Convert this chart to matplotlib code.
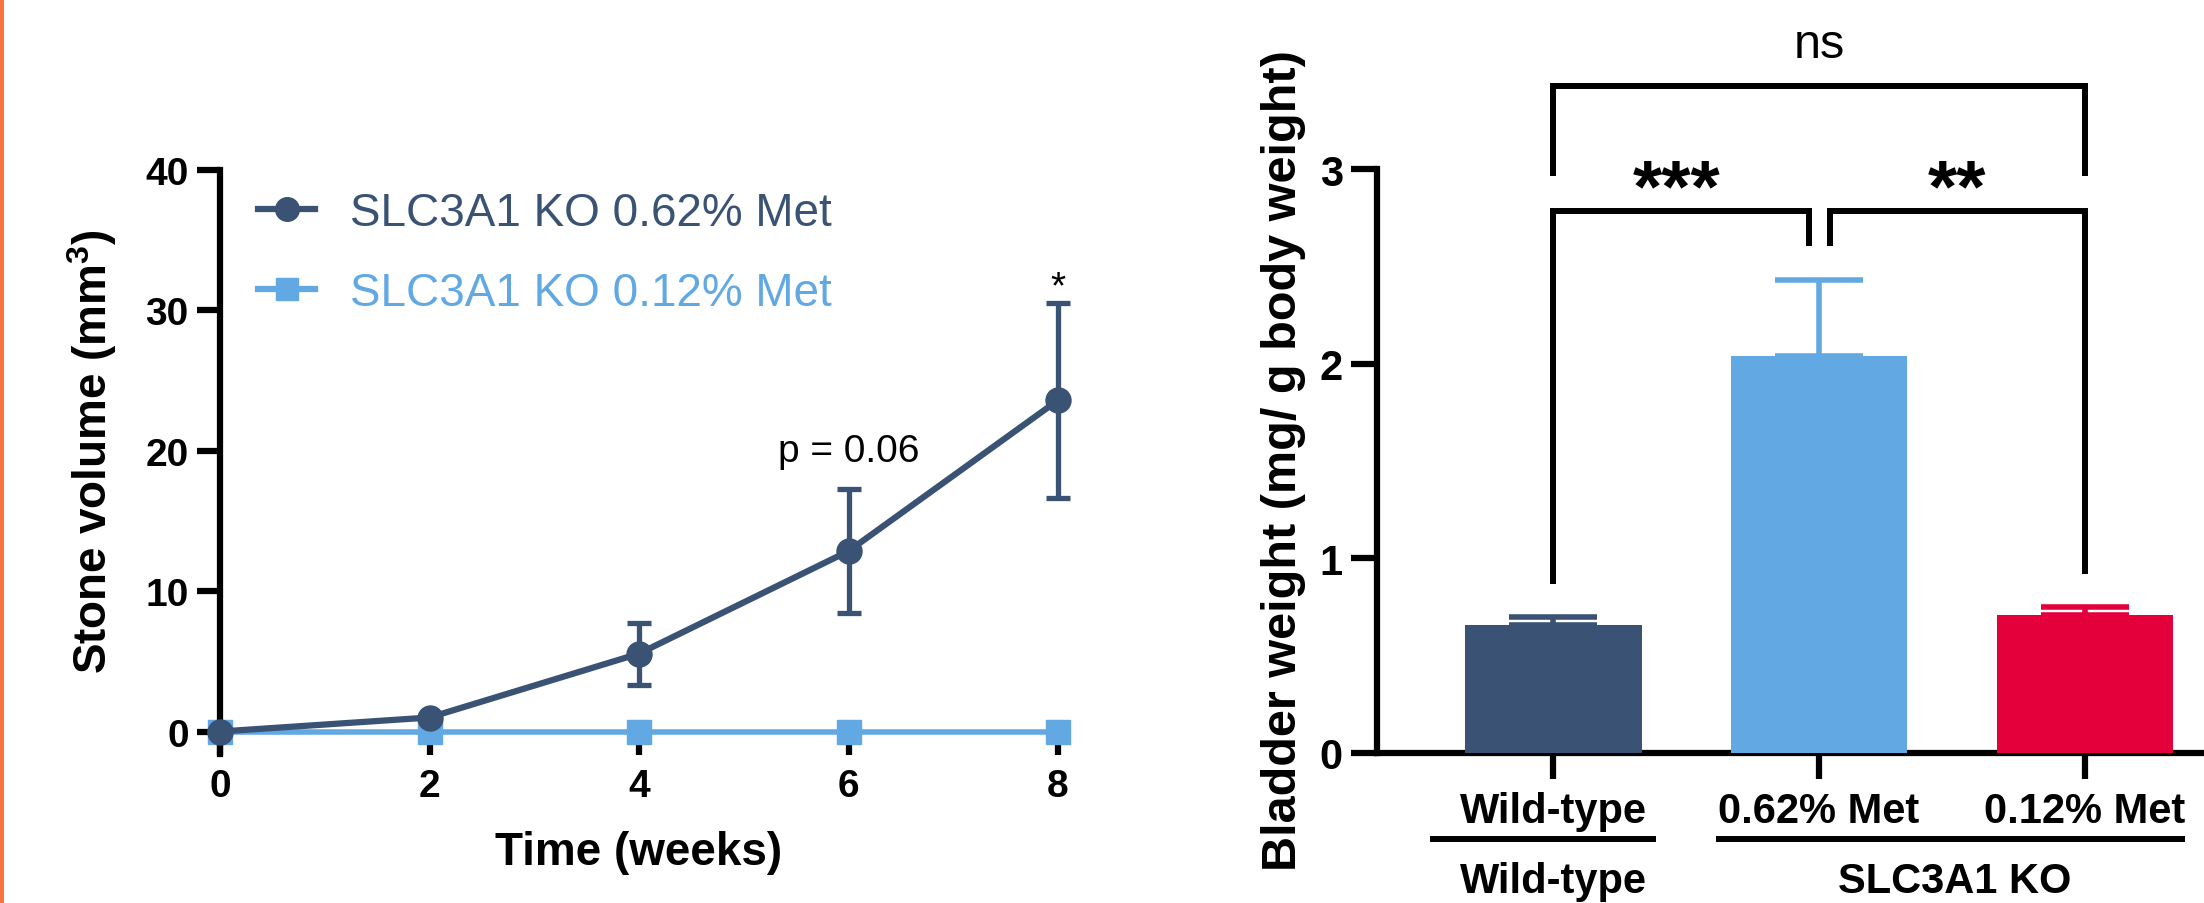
import numpy as np
import matplotlib
matplotlib.use("Agg")
import matplotlib.pyplot as plt
from matplotlib.lines import Line2D
from matplotlib.patches import Rectangle
from matplotlib.transforms import blended_transform_factory

plt.rcParams['font.family'] = ['Liberation Sans', 'DejaVu Sans']
plt.rcParams['mathtext.fontset'] = 'custom'
plt.rcParams['mathtext.rm'] = 'Liberation Sans'
plt.rcParams['mathtext.bf'] = 'Liberation Sans:bold'

# stone volume over time
weeks = [0, 2, 4, 6, 8]
met_high = [0, 1.0, 5.55, 12.85, 23.6]
met_high_sd = [0, 0, 2.2, 4.4, 6.95]
met_low = [0, 0, 0, 0, 0]
series_names = ['SLC3A1 KO 0.62% Met', 'SLC3A1 KO 0.12% Met']

# bladder weight
groups = ['Wild-type', '0.62% Met', '0.12% Met']
genotypes = ['Wild-type', 'SLC3A1 KO']
bladder = [0.66, 2.04, 0.71]
bladder_err = [0.04, 0.39, 0.04]

navy = '#3A5273'
light = '#62A8E2'
red = '#E4003A'
bar_colors = [navy, light, red]

W, H = 2204, 904
fig = plt.figure(figsize=(W / 100, H / 100), dpi=100)

# thin orange strip on the left edge
fig.add_artist(Rectangle((0, 0), 4 / W, 1, transform=fig.transFigure,
                         color='#F9733C', lw=0))

# ---- left: line plot ----
ax1 = fig.add_axes([220 / W, 1 - 755 / H, 838 / W, 584 / H])
ax1.plot(weeks, met_low, color=light, lw=4, marker='s', ms=17,
         clip_on=False, zorder=2)
ax1.errorbar(weeks, met_high, yerr=met_high_sd, color=navy, lw=4.5,
             marker='o', ms=18, capsize=8.5, capthick=3.8, elinewidth=3.8,
             zorder=3, clip_on=False)
ax1.set_xlim(0, 8)
ax1.set_ylim(-1.6, 40)
ax1.set_xticks(weeks)
ax1.set_yticks([0, 10, 20, 30, 40])
for s in ['top', 'right']:
    ax1.spines[s].set_visible(False)
ax1.spines['bottom'].set_position(('data', 0))
ax1.spines['bottom'].set_visible(False)
ax1.spines['left'].set_linewidth(4.5)
ax1.tick_params(axis='both', width=4.5, length=16.5, labelsize=28)
ax1.tick_params(axis='x', pad=10)
ax1.tick_params(axis='y', pad=6)
plt.setp(ax1.get_xticklabels() + ax1.get_yticklabels(), fontweight='bold')
ax1.set_xlabel('Time (weeks)', fontsize=33, fontweight='bold')
ax1.xaxis.set_label_coords(0.5, -0.13)
ax1.set_ylabel(r'Stone volume (mm$^{\mathbf{3}}$)', fontsize=33,
               fontweight='bold')
ax1.yaxis.set_label_coords(-0.12, 0.52)

ax1.text(6, 19.25, 'p = 0.06', ha='center', va='baseline', fontsize=28)
ax1.text(8, 30.9, '*', ha='center', va='baseline', fontsize=28)

handles = [Line2D([], [], color=navy, lw=4.5, marker='o', ms=17),
           Line2D([], [], color=light, lw=4.5, marker='s', ms=16)]
ax1.legend(handles, series_names, loc='upper left',
           bbox_to_anchor=(258 / W, 1 - 192 / H),
           bbox_transform=fig.transFigure, frameon=False, fontsize=33,
           labelcolor='linecolor', handlelength=1.25, handletextpad=0.75,
           labelspacing=0.78, borderpad=0, borderaxespad=0)

# ---- right: bar chart ----
ax2 = fig.add_axes([1377 / W, 1 - 754 / H, 841 / W, 584 / H])
xpos = np.arange(len(groups))
ax2.bar(xpos, bladder, width=0.665, color=bar_colors, zorder=3)
for i in range(len(groups)):
    ax2.errorbar(xpos[i], bladder[i], yerr=[[0], [bladder_err[i]]],
                 fmt='none', ecolor=bar_colors[i], elinewidth=4,
                 capsize=31.5, capthick=4, zorder=2)
ax2.set_xlim(-0.662, 2.5)
ax2.set_ylim(0, 3)
ax2.set_yticks([0, 1, 2, 3])
ax2.set_xticks(xpos, groups)
for s in ['top', 'right']:
    ax2.spines[s].set_visible(False)
for s in ['left', 'bottom']:
    ax2.spines[s].set_linewidth(4.5)
ax2.tick_params(axis='both', width=4.5, length=18.5, labelsize=30)
ax2.tick_params(axis='x', pad=9)
ax2.tick_params(axis='y', pad=6)
plt.setp(ax2.get_xticklabels() + ax2.get_yticklabels(), fontweight='bold')
ax2.set_ylabel('Bladder weight (mg/ g body weight)', fontsize=35,
               fontweight='bold')
ax2.yaxis.set_label_coords(-0.085, 0.503)

# significance brackets
bk = dict(color='black', lw=4.3, clip_on=False, solid_capstyle='butt',
          solid_joinstyle='miter')
ax2.plot([0, 0, 2, 2], [2.964, 3.426, 3.426, 2.964], **bk)
ax2.plot([0, 0, 0.962, 0.962], [0.868, 2.784, 2.784, 2.604], **bk)
ax2.plot([1.041, 1.041, 2, 2], [2.604, 2.784, 2.784, 0.92], **bk)
ax2.text(0.466, 2.79, '***', ha='center', va='baseline', fontsize=54,
         fontweight='bold')
ax2.text(1.517, 2.79, '**', ha='center', va='baseline', fontsize=54,
         fontweight='bold')
ax2.text(1.0, 3.575, 'ns', ha='center', va='baseline', fontsize=35)

# genotype row under the tick labels
tr = blended_transform_factory(ax2.transData, fig.transFigure)
ax2.plot([-0.462, 0.387], [1 - 840 / H] * 2, transform=tr, **bk)
ax2.plot([0.613, 2.376], [1 - 840 / H] * 2, transform=tr, **bk)
ax2.text(0, 1 - 893 / H, genotypes[0], transform=tr, ha='center',
         va='baseline', fontsize=30, fontweight='bold')
ax2.text(1.511, 1 - 893 / H, genotypes[1], transform=tr, ha='center',
         va='baseline', fontsize=30, fontweight='bold')

fig.savefig('out.png', dpi=100)
